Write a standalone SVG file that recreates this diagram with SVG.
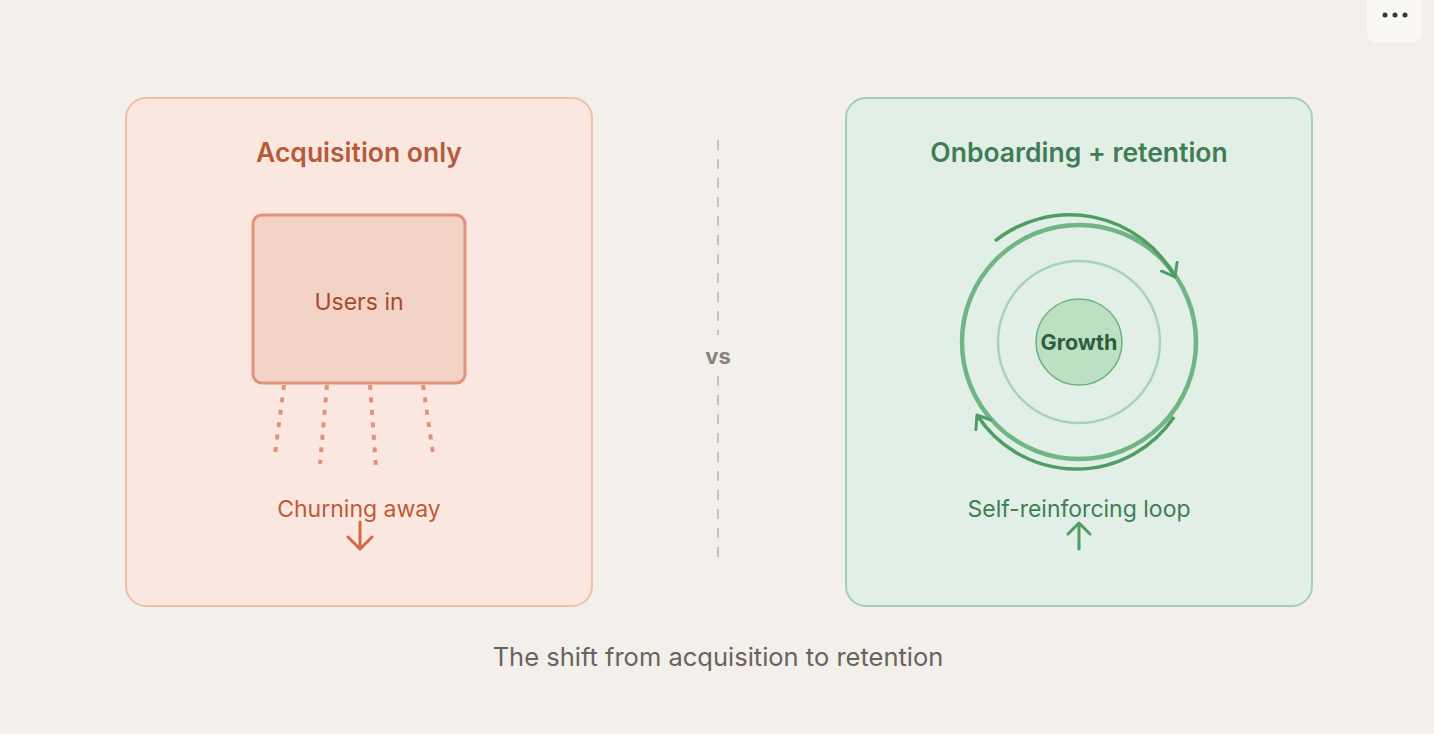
<svg xmlns="http://www.w3.org/2000/svg" width="1434" height="734" viewBox="0 0 1434 734">
<defs>
<style>
text{font-family:Inter,"Liberation Sans",sans-serif;text-anchor:middle}
.title{font-size:26.5px;font-weight:600}
.lbl{font-size:23px}
.drip{stroke:#e0937a;stroke-width:4;stroke-dasharray:5 7.5;fill:none}
.loop{stroke:#4e9e63;stroke-width:3.5;fill:none}
</style>
<marker id="chev" markerUnits="userSpaceOnUse" viewBox="0 0 24 24" refX="13" refY="12" markerWidth="24" markerHeight="24" orient="auto">
<path d="M1,3 L13,12 L1,21" fill="none" stroke="#4e9e63" stroke-width="3" stroke-linecap="round" stroke-linejoin="round"/>
</marker>
</defs>
<rect width="1434" height="734" fill="#f3f0eb"/>
<g id="menu">
<rect x="1367" y="-12" width="55" height="55" rx="10" fill="#faf8f4"/>
<circle cx="1385" cy="15" r="2.5" fill="#3a3633"/>
<circle cx="1395" cy="15" r="2.5" fill="#3a3633"/>
<circle cx="1405" cy="15" r="2.5" fill="#3a3633"/>
</g>
<g id="panel-left">
<rect x="126" y="98" width="466" height="508" rx="20" fill="#fae8e0" stroke="#efbfa8" stroke-width="2"/>
<text class="title" x="359" y="162" fill="#b85a3c">Acquisition only</text>
</g>
<g id="users-in">
<rect x="253" y="215" width="212" height="168" rx="9" fill="#f2d3c5" stroke="#e0937a" stroke-width="3"/>
<text x="359" y="310" font-size="23" fill="#a84a2e">Users in</text>
</g>
<g id="churn">
<text class="lbl" x="359" y="517" fill="#c0583a">Churning away</text>
<path d="M360 522 V549 M348 537 L360 549 L372 537" fill="none" stroke="#d4694a" stroke-width="3" stroke-linecap="round" stroke-linejoin="round"/>
</g>
<g id="panel-right">
<rect x="846" y="98" width="466" height="508" rx="20" fill="#e2efe7" stroke="#a3cfb0" stroke-width="2"/>
<text class="title" x="1079" y="162" fill="#3f7e55">Onboarding + retention</text>
</g>
<g id="rings">
<circle cx="1079" cy="342" r="117" fill="none" stroke="#72b585" stroke-width="4.5"/>
<circle cx="1079" cy="342" r="81" fill="none" stroke="#a8d4b4" stroke-width="2.5"/>
</g>
<g id="growth">
<circle cx="1079" cy="342" r="43" fill="#bde0c5" stroke="#6db27f" stroke-width="1.5"/>
<text x="1079" y="350" font-size="21.5" font-weight="700" fill="#2f5e3e">Growth</text>
</g>
<g id="loop-label">
<text class="lbl" x="1079" y="517" fill="#3f7e55">Self-reinforcing loop</text>
<path d="M1079 549 V523 M1068 534 L1079 523 L1090 534" fill="none" stroke="#4e9e63" stroke-width="3" stroke-linecap="round" stroke-linejoin="round"/>
</g>
<g id="vs">
<text x="718" y="364" font-size="22" font-weight="700" fill="#8a827c">vs</text>
</g>
<g id="connectors">
<path class="drip" d="M284 385 L275 454"/>
<path class="drip" d="M327 385 L320 464"/>
<path class="drip" d="M370 385 L376 467"/>
<path class="drip" d="M423 385 L433 454"/>
<path class="loop" d="M995 241 A120 120 0 0 1 1175 277" marker-end="url(#chev)"/>
<path class="loop" d="M1174 417 A118 118 0 0 1 977 415" marker-end="url(#chev)"/>
<path d="M718 140 V335 M718 376 V564" stroke="#c9c2bb" stroke-width="2" stroke-dasharray="10 9" fill="none"/>
</g>
<text x="718" y="666" font-size="25.5" fill="#6b625c">The shift from acquisition to retention</text>
</svg>
